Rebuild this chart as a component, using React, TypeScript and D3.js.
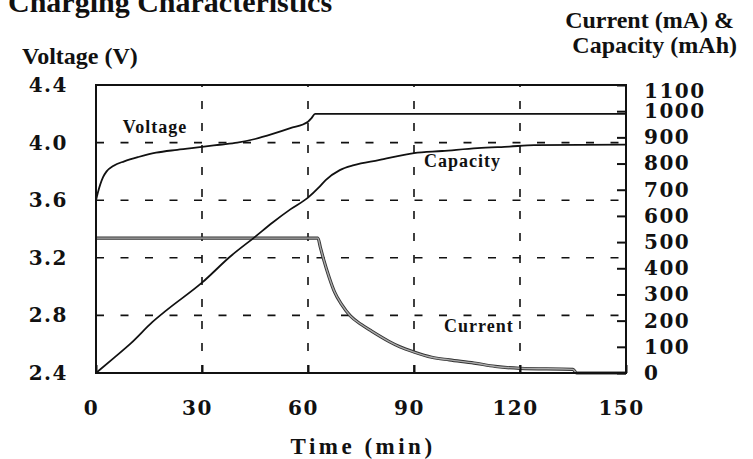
import React, { useRef, useEffect } from "react";
import * as d3 from "d3";

// time (min) / value pairs
const voltageTime = [0, 0.5, 2, 3, 5, 8, 12, 17, 23, 30, 35, 40, 45, 50, 55, 60, 61, 62, 150];
const voltageVals = [3.6, 3.65, 3.76, 3.8, 3.84, 3.87, 3.9, 3.93, 3.95, 3.97, 3.985, 4.0, 4.025, 4.06, 4.1, 4.145, 4.17, 4.2, 4.2];

const capacityTime = [0, 5, 10, 16, 20, 30, 38, 45, 50, 55, 60, 63, 65, 69, 73, 80, 90, 98, 108, 117, 124, 150];
const capacityVals = [0, 57, 115, 195, 240, 345, 445, 520, 575, 625, 670, 708, 737, 775, 794, 813, 840, 848, 859, 865, 870, 872];

const currentTime = [0, 62.8, 63.5, 64.5, 66, 67.5, 69.5, 72, 75, 78, 83, 86, 90, 95, 100, 107, 113, 120, 135, 136, 150];
const currentVals = [515, 515, 480, 430, 365, 310, 262, 218, 186, 160, 120, 100, 80, 60, 50, 38, 25, 18, 14, 0, 0];

const timeTicks = [0, 30, 60, 90, 120, 150];
const voltTicks = [2.4, 2.8, 3.2, 3.6, 4.0, 4.4];
const currentTicks = [0, 100, 200, 300, 400, 500, 600, 700, 800, 900, 1000, 1100];

const FONT = "'Liberation Serif', 'Times New Roman', serif";
const TICK_FONT = "'DejaVu Serif', serif";

function ChargeChart() {
  const svgRef = useRef<SVGSVGElement>(null);

  useEffect(() => {
    const svg = d3.select(svgRef.current);
    svg.selectAll("*").remove();

    const left = 96, right = 626, top = 85, bottom = 373;

    const x = d3.scaleLinear().domain([0, 150]).range([left, right]);
    const yV = d3.scaleLinear().domain([2.4, 4.4]).range([bottom, top]);
    const yI = d3.scaleLinear().domain([0, 1100]).range([bottom, top]);

    // dashed grid
    svg.append("g")
      .selectAll("line")
      .data(voltTicks.slice(1, -1))
      .join("line")
      .attr("x1", left).attr("x2", right)
      .attr("y1", (d) => yV(d)).attr("y2", (d) => yV(d))
      .attr("stroke", "#111")
      .attr("stroke-width", 1.6)
      .attr("stroke-dasharray", "8,16.5");

    svg.append("g")
      .selectAll("line")
      .data(timeTicks.slice(1, -1))
      .join("line")
      .attr("x1", (d) => x(d)).attr("x2", (d) => x(d))
      .attr("y1", bottom).attr("y2", top)
      .attr("stroke", "#111")
      .attr("stroke-width", 1.6)
      .attr("stroke-dasharray", "8,14");

    // curves
    const line = (xs: number[], ys: number[], yScale: any) =>
      d3.line<number>()
        .x((d, i) => x(xs[i]))
        .y((d) => yScale(d))
        .curve(d3.curveMonotoneX)(ys);

    svg.append("path")
      .attr("d", line(currentTime, currentVals, yI))
      .attr("fill", "none")
      .attr("stroke", "#333")
      .attr("stroke-width", 3.2);
    svg.append("path")
      .attr("d", line(currentTime, currentVals, yI))
      .attr("fill", "none")
      .attr("stroke", "#aaa")
      .attr("stroke-width", 1.4);

    svg.append("path")
      .attr("d", line(voltageTime, voltageVals, yV))
      .attr("fill", "none")
      .attr("stroke", "#111")
      .attr("stroke-width", 1.8);

    svg.append("path")
      .attr("d", line(capacityTime, capacityVals, yI))
      .attr("fill", "none")
      .attr("stroke", "#111")
      .attr("stroke-width", 1.8);

    // frame
    svg.append("rect")
      .attr("x", left).attr("y", top)
      .attr("width", right - left).attr("height", bottom - top)
      .attr("fill", "none")
      .attr("stroke", "#111")
      .attr("stroke-width", 2);

    // axes
    const styleAxis = (g: any) => {
      g.select(".domain").remove();
      g.selectAll("line").attr("stroke", "#111").attr("stroke-width", 2);
      g.selectAll("text")
        .attr("fill", "#111")
        .attr("font-family", TICK_FONT)
        .attr("font-weight", "bold")
        .attr("font-size", 20)
        .attr("letter-spacing", 1.5);
    };

    svg.append("g")
      .attr("transform", `translate(${left},0)`)
      .call(d3.axisLeft(yV).tickValues(voltTicks).tickFormat(d3.format(".1f")).tickSize(0).tickPadding(28))
      .call(styleAxis);

    const rightAxis = svg.append("g")
      .attr("transform", `translate(${right},0)`)
      .call(d3.axisRight(yI).tickValues(currentTicks).tickFormat(d3.format("d")).tickSizeInner(-9).tickSizeOuter(0).tickPadding(18))
      .call(styleAxis);
    // top label sits a little below its tick, as in the original
    rightAxis.selectAll("text")
      .filter((d: any) => d === 1100)
      .attr("dy", 12);

    svg.append("g")
      .attr("transform", `translate(0,${bottom})`)
      .call(d3.axisBottom(x).tickValues(timeTicks).tickSizeInner(-8).tickSizeOuter(0).tickPadding(28))
      .call(styleAxis)
      .selectAll("text")
      .attr("dx", -5);

    // labels
    const label = (t: string, px: number, py: number, size: number, spacing: number, anchor = "start") =>
      svg.append("text")
        .attr("x", px).attr("y", py)
        .attr("text-anchor", anchor)
        .attr("font-family", FONT)
        .attr("font-weight", "bold")
        .attr("font-size", size)
        .attr("letter-spacing", spacing)
        .attr("fill", "#111")
        .text(t);

    label("Charging Characteristics", 8, 12, 30, 0);
    label("Voltage (V)", 22, 64, 24, 0);
    label("Current (mA) &", 734, 28, 24, 0, "end");
    label("Capacity (mAh)", 737, 53, 24, 0, "end");
    label("Time (min)", (left + right) / 2 + 2, 454, 23, 3.5, "middle");

    label("Voltage", x(7.6), yV(4.067), 18, 1);
    label("Capacity", x(92.8), yI(787), 18, 1);
    label("Current", x(98.5), yI(157), 18, 1);
  }, []);

  return (
    <svg
      ref={svgRef}
      width={753}
      height={459}
      style={{ position: "absolute", left: 0, top: 0, background: "#fff" }}
    />
  );
}

export default function App() {
  return <ChargeChart />;
}
